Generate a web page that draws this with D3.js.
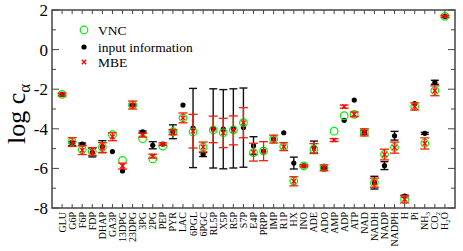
<!DOCTYPE html>
<html>
<head>
<meta charset="utf-8">
<script src="https://cdn.jsdelivr.net/npm/d3@7"></script>
<style>
  body { margin: 0; background: #fff; }
  svg { display: block; }
</style>
</head>
<body>
<svg id="chart" width="463" height="251"></svg>
<script>
// metabolites, in plot order
const categories = ["GLU", "G6P", "F6P", "FDP", "DHAP", "GA3P", "13DPG", "23DPG", "3PG", "2PG",
    "PEP", "PYR", "LAC", "6PGL", "6PGC", "RL5P", "X5P", "R5P", "S7P", "E4P",
    "PRPP", "IMP", "R1P", "HX", "INO", "ADE", "ADO", "AMP", "ADP", "ATP",
    "NAD", "NADH", "NADP", "NADPH", "H", "Pi", "NH3", "CO2", "H2O"];

// input information (black dots) and its error
const inputVals = [-2.26, -4.75, -4.77, -5.2, -4.9, -5.15, -6.13, -2.8, -4.16, -4.83,
    -4.77, -4.15, -2.8, -3.96, -5.3, -3.98, -4.02, -3.98, -3.94, -4.85,
    -5.12, -4.52, -4.2, -5.73, -5.87, -4.92, -5.97, null, -3.57, -2.55,
    -4.18, -6.72, -5.86, -4.35, -7.4, -2.73, -4.23, -1.65, 1.68];
const inputErr = [0, 0.1, 0.05, 0.22, 0.3, 0, 0, 0.05, 0.05, 0.18,
    0, 0.35, 0, 2, 0.1, 2, 2, 2, 2, 0.45,
    0, 0, 0, 0.3, 0, 0.3, 0.05, 0, 0, 0,
    0.1, 0.32, 0.2, 0.22, 0.05, 0, 0.05, 0.1, 0];

// VNC (green circles)
const vncVals = [-2.26, -4.65, -5.05, -5.15, -4.92, -4.3, -5.6, -2.8, -4.5, -5.52,
    -4.87, -4.15, -3.45, -4.16, -4.92, -4.06, -4.2, -4.06, -3.69, -5.2,
    -5.12, -4.52, -4.9, -6.64, -5.87, -5.03, -5.97, -4.12, -3.34, -3.27,
    -4.18, -6.72, -5.29, -4.94, -7.58, -2.88, -4.73, -2.07, 1.68];

// MBE (red crosses) and its error
const mbeVals = [-2.27, -4.67, -5.08, -5.15, -4.95, -4.4, -5.88, -2.8, -4.32, -5.38,
    -4.77, -4.17, -3.45, -4.12, -4.92, -4.03, -4.21, -4.08, -3.69, -5.18,
    -5.13, -4.52, -4.9, -6.65, -5.87, -5.0, -5.97, -4.57, -2.88, -3.27,
    -4.18, -6.72, -5.3, -4.95, -7.56, -2.87, -4.74, -2.08, 1.68];
const mbeErr = [0.07, 0.22, 0.22, 0.2, 0.25, 0.2, 0.15, 0.2, 0.1, 0.1,
    0.06, 0.13, 0.25, 0.85, 0.25, 0.67, 0.74, 0.73, 0.76, 0.45,
    0.48, 0.2, 0.2, 0.23, 0.05, 0.25, 0.15, 0.07, 0.08, 0.12,
    0.18, 0.23, 0.27, 0.28, 0.18, 0.18, 0.28, 0.25, 0.05];

const yTicks = [2, 0, -2, -4, -6, -8];

const svg = d3.select("#chart");
const margin = {top: 10, right: 8, bottom: 43, left: 52};
const W = 463, H = 251;

const x = d3.scaleLinear().domain([0, categories.length + 1]).range([margin.left, W - margin.right]);
const y = d3.scaleLinear().domain([-8, 2]).range([H - margin.bottom, margin.top]);

const frameColor = "#444";
const font = "'Liberation Serif', 'Times New Roman', serif";

// ticks: every category on top and bottom, every unit on the sides
const tk = svg.append("g").attr("stroke", frameColor).attr("stroke-width", 1);
categories.forEach(function (c, i) {
    tk.append("line").attr("x1", x(i + 1)).attr("x2", x(i + 1))
        .attr("y1", y(2)).attr("y2", y(2) + 4);
    tk.append("line").attr("x1", x(i + 1)).attr("x2", x(i + 1))
        .attr("y1", y(-8)).attr("y2", y(-8) - 4);
});
d3.range(-8, 3).forEach(function (v) {
    let len = (v % 2 === 0) ? 7 : 4;
    tk.append("line").attr("x1", x(0)).attr("x2", x(0) + len).attr("y1", y(v)).attr("y2", y(v));
    tk.append("line").attr("x1", x(40)).attr("x2", x(40) - len).attr("y1", y(v)).attr("y2", y(v));
});

// y tick labels
svg.append("g").selectAll("text")
    .data(yTicks)
    .join("text")
    .attr("x", x(0) - 4)
    .attr("y", d => y(d))
    .attr("dy", "0.35em")
    .attr("text-anchor", "end")
    .attr("font-family", font)
    .attr("font-size", "17px")
    .text(d => d < 0 ? "-" + Math.abs(d) : d);

// y title
const yt = svg.append("text")
    .attr("transform", "translate(25,114) rotate(-90)")
    .attr("text-anchor", "middle")
    .attr("font-family", font)
    .attr("font-size", "26px");
yt.append("tspan").text("log c");
yt.append("tspan").attr("baseline-shift", "-30%").attr("font-size", "17px").text("α");

// x labels, rotated, with subscripts
const subs = {"NH3": ["NH", "3"], "CO2": ["CO", "2"], "H2O": ["H", "2", "O"]};
const xl = svg.append("g").selectAll("text")
    .data(categories)
    .join("text")
    .attr("transform", (d, i) => `translate(${x(i + 1)},${y(-8) + 4}) rotate(-90)`)
    .attr("dy", "0.35em")
    .attr("text-anchor", "end")
    .attr("font-family", font)
    .attr("font-size", "10px");
xl.each(function (d) {
    const t = d3.select(this);
    if (subs[d]) {
        const p = subs[d];
        t.append("tspan").text(p[0]);
        t.append("tspan").attr("baseline-shift", "-30%").attr("font-size", "7px").text(p[1]);
        if (p[2]) t.append("tspan").text(p[2]);
    } else {
        t.text(d);
    }
});

// rows built from the arrays
const data = categories.map((c, i) => ({
    i: i, input: inputVals[i], inErr: inputErr[i], vnc: vncVals[i], mbe: mbeVals[i], mbErr: mbeErr[i]
}));

function errBars(g, rows, val, err, cap) {
    rows.forEach(function (d) {
        const cx = x(d.i + 1), lo = y(d[val] - d[err]), hi = y(d[val] + d[err]);
        g.append("line").attr("x1", cx).attr("x2", cx).attr("y1", lo).attr("y2", hi);
        g.append("line").attr("x1", cx - cap).attr("x2", cx + cap).attr("y1", lo).attr("y2", lo);
        g.append("line").attr("x1", cx - cap).attr("x2", cx + cap).attr("y1", hi).attr("y2", hi);
    });
}

// input information: error bars then dots
const withInput = data.filter(d => d.input !== null);
errBars(svg.append("g").attr("stroke", "#111").attr("stroke-width", 1.4),
    withInput.filter(d => d.inErr > 0), "input", "inErr", 4);

svg.append("g").selectAll("circle")
    .data(withInput)
    .join("circle")
    .attr("cx", d => x(d.i + 1))
    .attr("cy", d => y(d.input))
    .attr("r", 2.6)
    .attr("fill", "#000");

// VNC circles
svg.append("g").selectAll("circle")
    .data(data)
    .join("circle")
    .attr("cx", d => x(d.i + 1))
    .attr("cy", d => y(d.vnc))
    .attr("r", 3.8)
    .attr("fill", "none")
    .attr("stroke", "#00ee00")
    .attr("stroke-width", 1.2);

// MBE error bars and crosses
errBars(svg.append("g").attr("stroke", "#ff1a00").attr("stroke-width", 1.3),
    data, "mbe", "mbErr", 4.5);

const cross = svg.append("g").attr("stroke", "#ff0000").attr("stroke-width", 1.3);
data.forEach(function (d) {
    const cx = x(d.i + 1), cy = y(d.mbe), s = 2.2;
    cross.append("line").attr("x1", cx - s).attr("x2", cx + s).attr("y1", cy - s).attr("y2", cy + s);
    cross.append("line").attr("x1", cx - s).attr("x2", cx + s).attr("y1", cy + s).attr("y2", cy - s);
});

// frame
svg.append("rect")
    .attr("x", x(0)).attr("y", y(2))
    .attr("width", x(40) - x(0)).attr("height", y(-8) - y(2))
    .attr("fill", "none").attr("stroke", frameColor).attr("stroke-width", 1.5);

// legend
const lg = svg.append("g").attr("font-family", font).attr("font-size", "13.5px");
lg.append("circle").attr("cx", 84).attr("cy", 30).attr("r", 3.8)
    .attr("fill", "none").attr("stroke", "#00ee00").attr("stroke-width", 1.2);
lg.append("circle").attr("cx", 84).attr("cy", 47).attr("r", 2.6).attr("fill", "#000");
lg.append("g").attr("stroke", "#ff0000").attr("stroke-width", 1.3)
    .call(g => {
        g.append("line").attr("x1", 81.8).attr("x2", 86.2).attr("y1", 59.8).attr("y2", 64.2);
        g.append("line").attr("x1", 81.8).attr("x2", 86.2).attr("y1", 64.2).attr("y2", 59.8);
    });
[["VNC", 30], ["input information", 47], ["MBE", 62]].forEach(function (r) {
    lg.append("text").attr("x", 98).attr("y", r[1]).attr("dy", "0.35em").text(r[0]);
});
</script>
</body>
</html>
